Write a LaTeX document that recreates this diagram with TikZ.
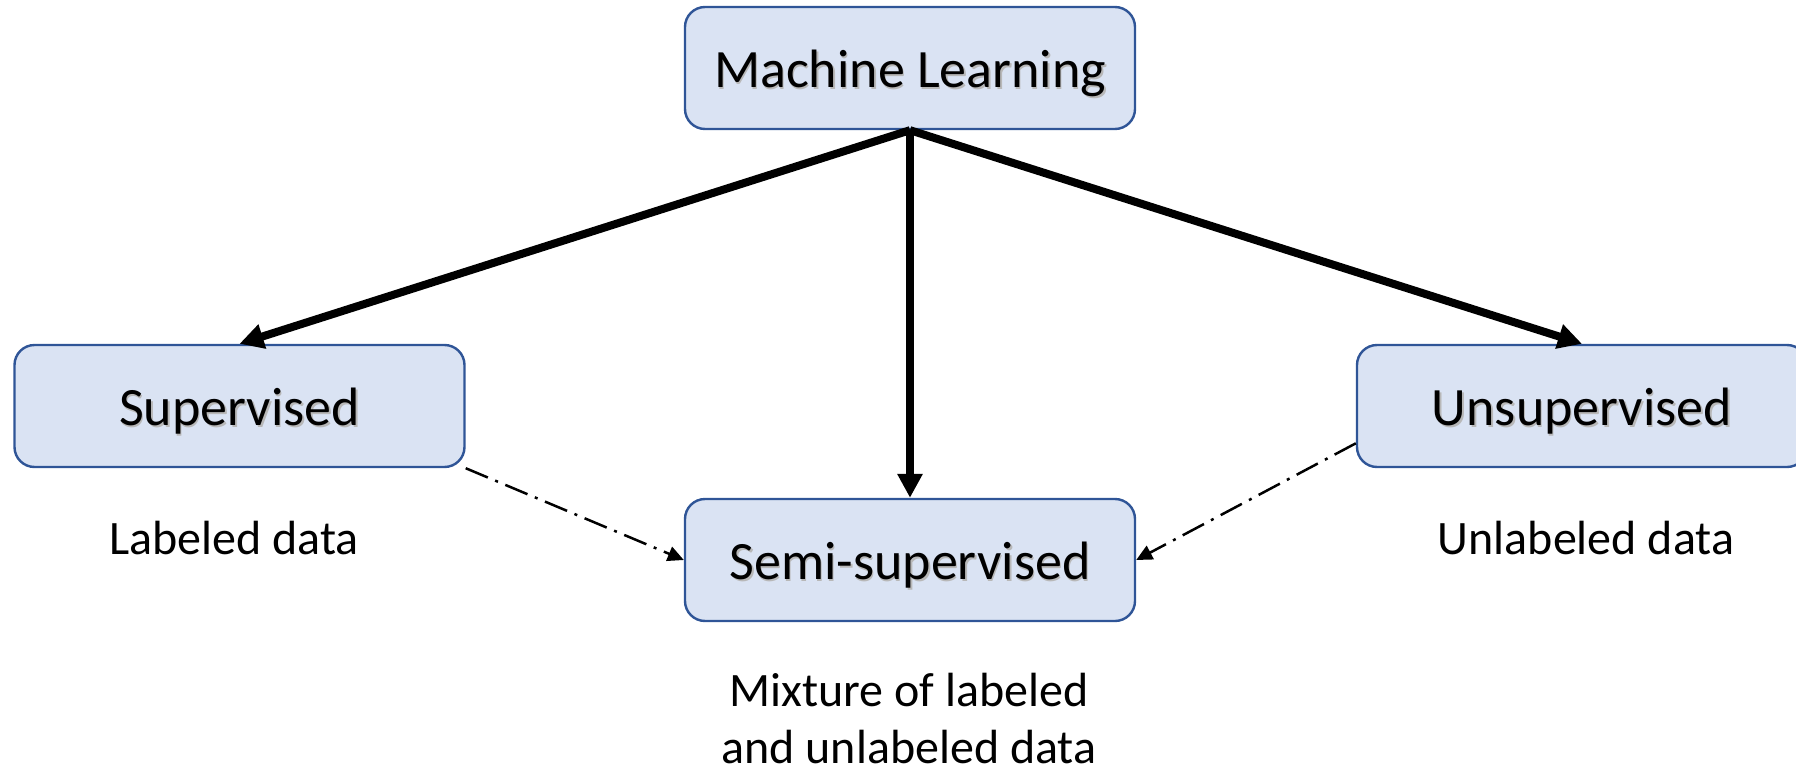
\documentclass[tikz,border=0pt]{standalone}
\usepackage{fontspec}
\setmainfont{Carlito}
\usetikzlibrary{arrows.meta,calc}

\definecolor{boxfill}{HTML}{DAE3F3}
\definecolor{boxline}{HTML}{2F5597}

% text with a soft drop shadow, as used inside the category boxes
\newcommand\shadowtext[1]{\makebox[0pt][l]{\kern0.8pt\raisebox{-0.8pt}{\textcolor{black!28}{#1}}}#1}

\tikzset{
  catbox/.style={draw=boxline, fill=boxfill, line width=1.2pt, rounded corners=10pt,
    minimum width=225pt, minimum height=61pt, inner sep=0pt,
    text height=25pt, text depth=5.4pt,
    font=\fontsize{27}{32}\selectfont},
  note/.style={font=\fontsize{24}{28.5}\selectfont, align=center, inner sep=0pt},
  mainarrow/.style={line width=4pt, -{Triangle[length=12pt,width=12pt]}},
  linkarrow/.style={line width=1.25pt, dash pattern=on 12pt off 4pt on 1.5pt off 4pt,
    -{Triangle[length=8pt,width=7.5pt]}}
}

\begin{document}
\begin{tikzpicture}[x=0.5pt,y=-0.5pt]
  \useasboundingbox (0,0) rectangle (1796,766);

  % category boxes
  \node[catbox] (ml)    at (910,68)    {\shadowtext{Machine Learning}};
  \node[catbox] (sup)   at (239.5,406) {\shadowtext{Supervised}};
  \node[catbox] (unsup) at (1582,406)  {\shadowtext{Unsupervised}};
  \node[catbox] (semi)  at (910,560)   {\shadowtext{Semi-supervised}};

  % data descriptions
  \node[note, anchor=base] (supnote)   at (234,554)  {Labeled data};
  \node[note, anchor=base] (unsupnote) at (1586,554) {Unlabeled data};
  \node[note, anchor=north] (seminote) at (909,673)  {Mixture of labeled\\and unlabeled data};

  % main branches
  \draw[mainarrow] (ml.south) -- (sup.north);
  \draw[mainarrow] (ml.south) -- (unsup.north);
  \draw[mainarrow] (ml.south) -- (semi.north);

  % links into the semi-supervised box
  \coordinate (unsupout) at ($(unsup.south west)!0.2!(unsup.north west)$);
  \draw[linkarrow] (sup.south east) -- (semi.west);
  \draw[linkarrow] (unsupout) -- (semi.east);
\end{tikzpicture}
\end{document}
